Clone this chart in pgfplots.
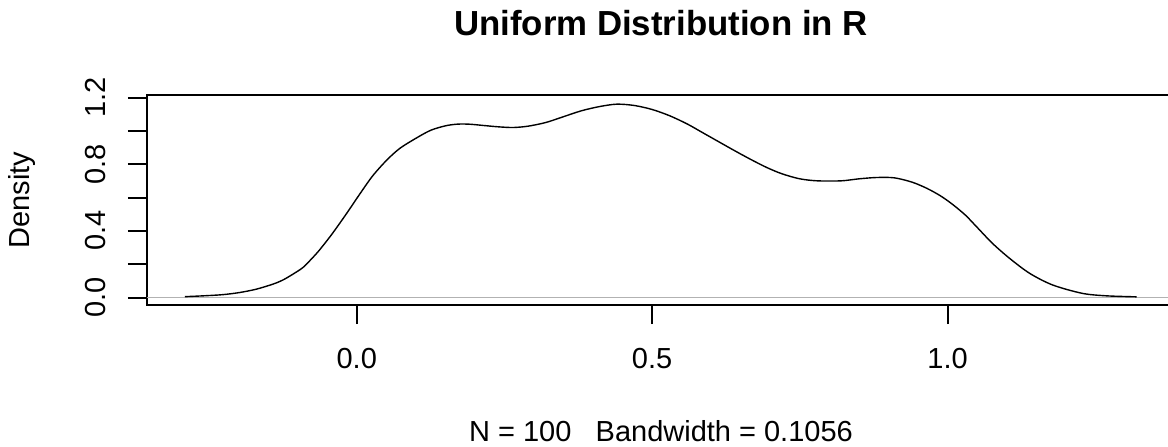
\documentclass[border=0pt]{standalone}
\usepackage{pgfplots}
\pgfplotsset{compat=1.18}
\usepackage{fontspec}
\setmainfont{Liberation Sans}

% kernel density estimate
\pgfplotstableread{
x y
-0.291 0.005
-0.260 0.010
-0.227 0.017
-0.198 0.030
-0.170 0.050
-0.142 0.080
-0.125 0.105
-0.108 0.140
-0.091 0.180
-0.077 0.230
-0.063 0.285
-0.041 0.385
-0.017 0.505
0.005 0.620
0.027 0.730
0.051 0.825
0.073 0.895
0.100 0.955
0.125 1.003
0.150 1.030
0.170 1.040
0.190 1.040
0.215 1.032
0.240 1.024
0.265 1.020
0.290 1.028
0.320 1.050
0.350 1.085
0.380 1.120
0.410 1.145
0.440 1.160
0.470 1.152
0.500 1.128
0.530 1.090
0.560 1.040
0.585 0.990
0.610 0.940
0.636 0.888
0.665 0.832
0.694 0.780
0.720 0.742
0.750 0.712
0.780 0.700
0.820 0.700
0.850 0.712
0.880 0.720
0.910 0.718
0.940 0.692
0.965 0.655
0.988 0.610
1.008 0.560
1.030 0.495
1.049 0.425
1.076 0.325
1.105 0.235
1.139 0.145
1.178 0.075
1.228 0.025
1.269 0.010
1.320 0.004
}\densdata

\begin{document}
\begin{tikzpicture}
\begin{axis}[
  at={(73.5pt,70.5pt)}, anchor=south west,
  scale only axis,
  width=514pt, height=105pt,
  xmin=-0.355, xmax=1.385,
  ymin=-0.045, ymax=1.215,
  axis line style={line width=1pt},
  tick style={line width=1pt, black},
  tick align=outside,
  major tick length=9.5pt,
  xtick pos=left, ytick pos=left,
  xtick={0,0.5,1},
  xticklabels={0.0,0.5,1.0},
  ytick={0,0.2,0.4,0.6,0.8,1.0,1.2},
  yticklabels={0.0,,0.4,,0.8,,1.2},
  /pgf/number format/assume math mode=true,
  ticklabel style={font=\fontsize{14.5}{17}\selectfont, inner sep=0pt},
  xticklabel style={anchor=north},
  yticklabel style={rotate=90, anchor=south},
  xticklabel shift=12pt,
  yticklabel shift=11pt,
]
\addplot[gray!60, line width=0.8pt] coordinates {(-0.355,0) (1.385,0)};
\addplot[black, line width=0.7pt, smooth, tension=0.5] table[x=x, y=y] {\densdata};
\end{axis}

\node[anchor=base, font=\fontsize{17.4}{20}\selectfont\bfseries] at (330.5pt,205.5pt) {Uniform Distribution in R};
\node[anchor=base, font=\fontsize{14.5}{17}\selectfont] at (330.5pt,2.5pt) {N = 100\ \ \ Bandwidth = 0.1056};
\node[anchor=base, rotate=90, font=\fontsize{14.5}{17}\selectfont] at (14.5pt,123pt) {Density};

\pgfresetboundingbox
\path[use as bounding box] (0,0) rectangle (584pt,223pt);
\end{tikzpicture}
\end{document}
